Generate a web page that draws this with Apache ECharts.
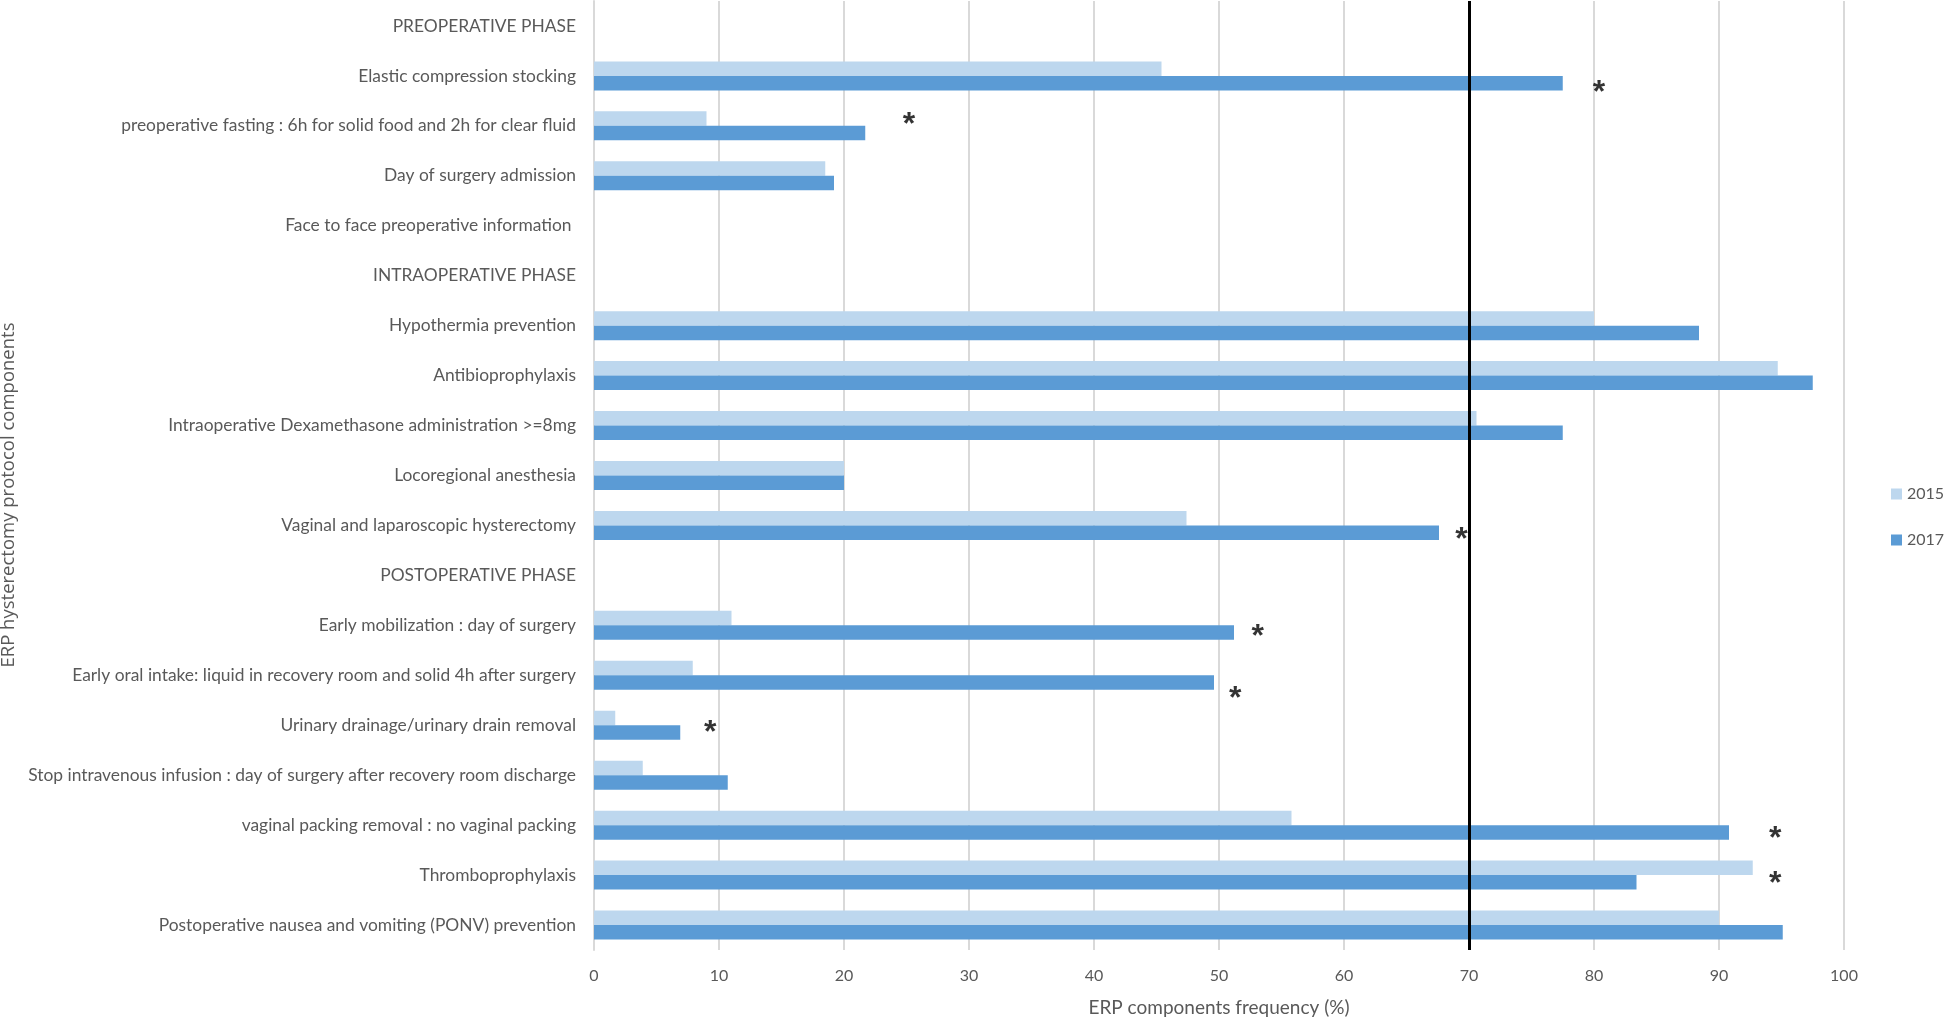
<!DOCTYPE html>
<html>
<head>
<meta charset="utf-8">
<script src="https://cdn.jsdelivr.net/npm/echarts@6/dist/echarts.min.js"></script>
<style>html,body{margin:0;padding:0;background:#fff;}#c{width:1946px;height:1022px;}</style>
</head>
<body>
<div id="c"></div>
<script>
const categories = [
  'PREOPERATIVE PHASE',
  'Elastic compression stocking',
  'preoperative fasting : 6h for solid food and 2h for clear fluid',
  'Day of surgery admission',
  'Face to face preoperative information ',
  'INTRAOPERATIVE PHASE',
  'Hypothermia prevention',
  'Antibioprophylaxis',
  'Intraoperative Dexamethasone administration >=8mg',
  'Locoregional anesthesia',
  'Vaginal and laparoscopic hysterectomy',
  'POSTOPERATIVE PHASE',
  'Early mobilization : day of surgery',
  'Early oral intake: liquid in recovery room and solid 4h after surgery',
  'Urinary drainage/urinary drain removal',
  'Stop intravenous infusion : day of surgery after recovery room discharge',
  'vaginal packing removal : no vaginal packing',
  'Thromboprophylaxis',
  'Postoperative nausea and vomiting (PONV) prevention'
];
const values2015 = [null, 45.4, 9.0, 18.5, null, null, 80.0, 94.7, 70.6, 20.0, 47.4, null, 11.0, 7.9, 1.7, 3.9, 55.8, 92.7, 90.0];
const values2017 = [null, 77.5, 21.7, 19.2, null, null, 88.4, 97.5, 77.5, 20.0, 67.6, null, 51.2, 49.6, 6.9, 10.7, 90.8, 83.4, 95.1];
const xTicks = [0, 10, 20, 30, 40, 50, 60, 70, 80, 90, 100];
const thresholdValue = 70;
// significance asterisks: x value, y position in category units (0 = top edge)
const starX = [80.4, 25.2, 69.4, 53.1, 51.3, 9.3, 94.5, 94.5];
const starY = [1.64, 2.28, 10.59, 12.53, 13.77, 14.46, 16.58, 17.48];

const grey = '#595959';
const chart = echarts.init(document.getElementById('c'), null, {renderer: 'canvas'});
const option = {
  animation: false,
  backgroundColor: '#ffffff',
  grid: {left: 594, right: 102, top: 1, bottom: 68, containLabel: false},
  legend: {
    orient: 'vertical', left: 1891, top: 486, padding: 0, itemWidth: 11, itemHeight: 11, itemGap: 30,
    icon: 'rect',
    textStyle: {color: grey, fontSize: 16, fontFamily: 'Lato'},
    data: ['2015', '2017']
  },
  xAxis: [{
    type: 'value', min: xTicks[0], max: xTicks[xTicks.length - 1], interval: 10,
    name: 'ERP components frequency (%)', nameLocation: 'middle', nameGap: 48,
    nameTextStyle: {color: grey, fontSize: 19, fontFamily: 'Lato'},
    axisLine: {show: false}, axisTick: {show: false},
    axisLabel: {color: grey, fontSize: 16, fontFamily: 'Lato', margin: 18},
    splitLine: {show: true, lineStyle: {color: '#d9d9d9', width: 2}}
  }],
  yAxis: [{
    type: 'category', data: categories, inverse: true,
    axisLine: {show: true, lineStyle: {color: '#d9d9d9', width: 2}},
    axisTick: {show: false},
    axisLabel: {color: grey, fontSize: 17.4, fontFamily: 'Lato', margin: 18}
  }, {
    type: 'value', min: 0, max: categories.length, inverse: true, show: false
  }],
  graphic: [{
    type: 'text', x: 9, y: 495, rotation: Math.PI / 2,
    style: {text: 'ERP hysterectomy protocol components', fill: grey, fontSize: 18.5, fontFamily: 'Open Sans', align: 'center', verticalAlign: 'middle'}
  }],
  series: [{
    name: '2015', type: 'bar', data: values2015, barWidth: 14.5, barGap: '0%',
    itemStyle: {color: '#BDD7EE'}
  }, {
    name: '2017', type: 'bar', data: values2017, barWidth: 14.5, barGap: '0%',
    itemStyle: {color: '#5B9BD5'},
    markLine: {
      silent: true, symbol: 'none', label: {show: false},
      lineStyle: {color: '#000', width: 3, type: 'solid'},
      data: [{xAxis: thresholdValue}]
    }
  }, {
    name: 'stars', type: 'scatter', xAxisIndex: 0, yAxisIndex: 1, symbolSize: 2,
    itemStyle: {color: 'rgba(0,0,0,0)'},
    data: starX.map((x, i) => [x, starY[i]]),
    label: {show: true, position: 'inside', formatter: '*', color: '#000', fontSize: 32, fontWeight: 'bold', fontFamily: 'Liberation Sans', offset: [0, 10]},
    z: 10
  }]
};
chart.setOption(option);
</script>
</body>
</html>
